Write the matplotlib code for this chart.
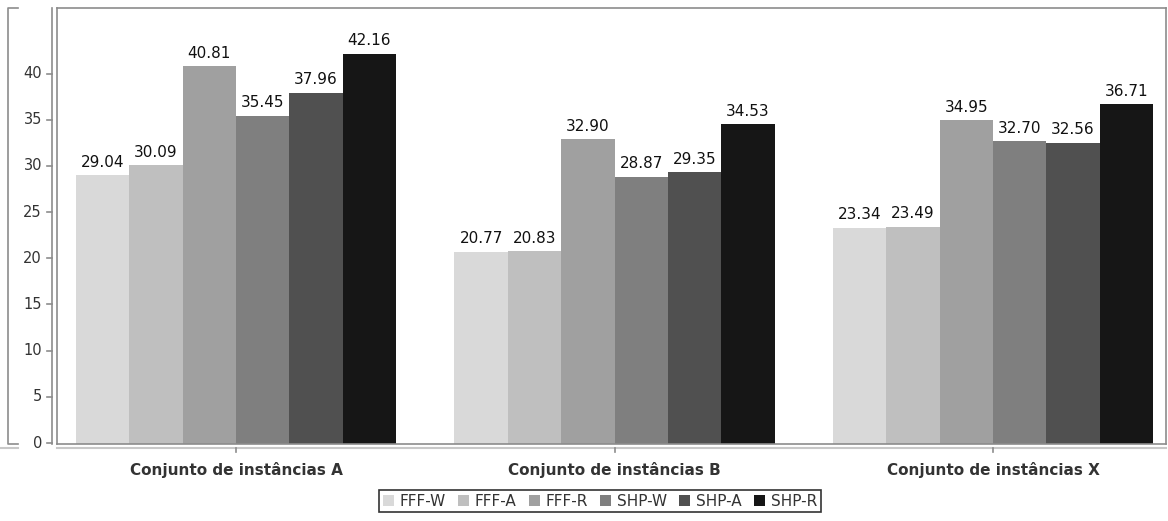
import numpy as np
import matplotlib
matplotlib.use("Agg")
import matplotlib.pyplot as plt
from matplotlib.lines import Line2D

groups = ["Conjunto de instâncias A", "Conjunto de instâncias B", "Conjunto de instâncias X"]
series = ["FFF-W", "FFF-A", "FFF-R", "SHP-W", "SHP-A", "SHP-R"]
fff_w = [29.04, 20.77, 23.34]
fff_a = [30.09, 20.83, 23.49]
fff_r = [40.81, 32.90, 34.95]
shp_w = [35.45, 28.87, 32.70]
shp_a = [37.96, 29.35, 32.56]
shp_r = [42.16, 34.53, 36.71]
values = [fff_w, fff_a, fff_r, shp_w, shp_a, shp_r]
colors = ["#d9d9d9", "#bfbfbf", "#a0a0a0", "#7f7f7f", "#505050", "#161616"]
yticks = [0, 5, 10, 15, 20, 25, 30, 35, 40]

plt.rcParams["font.family"] = ["DejaVu Sans"]

W, H = 1168, 521
fig = plt.figure(figsize=(W / 100, H / 100), dpi=100)
ax = fig.add_axes([57 / W, 1 - 444 / H, (1166 - 57) / W, (444 - 8) / H])

x = np.arange(len(groups))
bw = 0.141
for i, (name, vals, c) in enumerate(zip(series, values, colors)):
    bars = ax.bar(x + (i - 2.5) * bw, vals, bw, color=c, label=name, linewidth=0)
    ax.bar_label(bars, fmt="%.2f", padding=4, fontsize=11, color="#111111")

ax.set_xlim(-0.473, 2.457)
ax.set_ylim(0, 47.1)
ax.set_xticks([])
ax.set_yticks([])
for s in ax.spines.values():
    s.set_color("#8c8c8c")
    s.set_linewidth(1.2)


def fx(px):
    return px / W


def fy(py):
    return 1 - py / H


def line(xs, ys, color="#8c8c8c", lw=1.2):
    fig.add_artist(Line2D([fx(v) for v in xs], [fy(v) for v in ys],
                          color=color, lw=lw, transform=fig.transFigure))


# separate value axis to the left of the plot frame
line([52, 52], [8, 444])
for t in yticks:
    py = 443 - t * (435 / 47.1)
    line([47, 52], [py, py])
    fig.text(fx(42), fy(py), str(t), ha="right", va="center", fontsize=10.5, color="#333333")

# outer bracket on the far left
line([18, 8, 8, 18], [8, 8, 444, 444])
line([0, 18], [448, 448], color="#c8c8c8", lw=1.5)

# category axis below the frame
line([57, 1166], [448, 448], color="#c8c8c8", lw=1.5)
for xi, g in zip(x, groups):
    px = 57 + (xi + 0.473) * 378.5
    line([px, px], [448, 452])
    fig.text(fx(px), fy(470), g, ha="center", va="center", fontsize=11,
             fontweight="bold", color="#333333")

leg = fig.legend(loc="center", bbox_to_anchor=(fx(600), fy(501)), ncol=6,
                 frameon=True, fancybox=False, fontsize=11, handlelength=0.7,
                 handleheight=0.7, handletextpad=0.4, columnspacing=0.8,
                 borderpad=0.25, labelcolor="#333333")
leg.get_frame().set_edgecolor("black")
leg.get_frame().set_linewidth(1.2)

fig.savefig("out.png", dpi=100)
